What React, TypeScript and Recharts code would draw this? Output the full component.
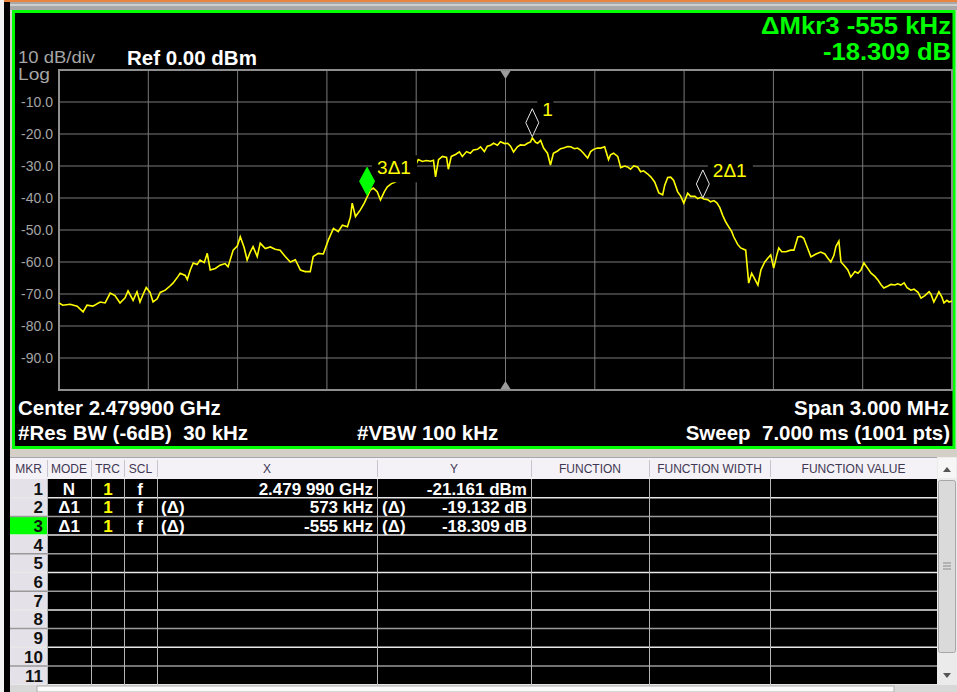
import React from 'react';
import { LineChart, Line, XAxis, YAxis, CartesianGrid, ReferenceArea, ReferenceDot } from 'recharts';

// sweep setup
const centerGHz = 2.4799;
const spanMHz = 3;
const resBwKHz = 30;
const vbwKHz = 100;
const sweepMs = 7;
const sweepPts = 1001;
const halfSpanKHz = (spanMHz * 1000) / 2;
const freqGridKHz = [-1200, -900, -600, -300, 0, 300, 600, 900, 1200];
const levelTicks = [-90, -80, -70, -60, -50, -40, -30, -20, -10];

// trace 1: [offset from center in kHz, level in dBm]
const trace: [number, number][] = [
  [-1500, -72.8], [-1487, -73.5], [-1463, -73.2], [-1439, -73.8], [-1419, -75.6], [-1406, -73.5],
  [-1386, -73.8], [-1362, -72.5], [-1345, -72.8], [-1328, -69.7], [-1312, -70.5], [-1295, -72.8],
  [-1278, -71.2], [-1268, -69.0], [-1251, -72.0], [-1238, -69.3], [-1228, -72.5], [-1217, -70.0],
  [-1207, -68.0], [-1194, -69.5], [-1184, -72.5], [-1170, -71.5], [-1160, -69.5], [-1143, -68.8],
  [-1127, -67.5], [-1117, -66.6], [-1100, -64.5], [-1093, -63.5], [-1076, -64.2], [-1069, -65.5],
  [-1059, -62.5], [-1049, -60.3], [-1036, -60.8], [-1026, -59.4], [-1012, -60.2], [-1002, -57.3],
  [-992, -62.5], [-975, -62.0], [-959, -61.0], [-942, -60.5], [-932, -61.5], [-925, -59.4],
  [-915, -56.3], [-901, -55.0], [-891, -52.1], [-878, -55.5], [-868, -59.4], [-858, -57.0],
  [-848, -55.2], [-834, -58.3], [-824, -54.1], [-807, -55.8], [-790, -55.3], [-774, -56.0],
  [-757, -56.3], [-740, -58.3], [-723, -60.0], [-706, -59.3], [-689, -62.5], [-673, -63.0],
  [-656, -63.0], [-646, -58.3], [-629, -57.3], [-612, -57.5], [-595, -53.1], [-578, -49.5],
  [-562, -50.5], [-548, -48.5], [-531, -49.0], [-521, -46.0], [-515, -41.6], [-504, -45.8],
  [-488, -43.8], [-474, -41.5], [-464, -39.5], [-454, -37.5], [-444, -36.9], [-431, -38.0],
  [-420, -40.6], [-407, -38.0], [-397, -36.5], [-383, -35.5], [-370, -35.0], [-353, -33.5],
  [-336, -34.5], [-319, -32.0], [-306, -30.5], [-293, -28.0], [-279, -28.6], [-266, -28.3],
  [-252, -28.5], [-242, -28.2], [-235, -33.4], [-225, -28.0], [-212, -27.0], [-198, -27.3],
  [-192, -31.0], [-182, -27.0], [-168, -26.4], [-155, -25.6], [-145, -27.0], [-131, -25.5],
  [-118, -26.0], [-108, -25.0], [-94, -24.8], [-84, -24.0], [-71, -25.5], [-61, -23.8],
  [-50, -23.5], [-40, -22.9], [-27, -23.5], [-17, -22.4], [-3, -23.0], [7, -22.9],
  [17, -23.8], [27, -25.6], [40, -24.0], [50, -23.4], [64, -23.5], [74, -22.9],
  [84, -22.5], [90, -21.2], [101, -22.6], [108, -22.9], [118, -22.0], [128, -24.4],
  [141, -26.0], [151, -29.7], [161, -26.0], [175, -25.3], [185, -24.6], [195, -24.4],
  [209, -23.9], [219, -24.0], [232, -24.6], [242, -24.4], [252, -25.0], [262, -26.0],
  [276, -27.5], [286, -25.5], [296, -24.8], [309, -24.4], [320, -24.4], [333, -24.0],
  [346, -28.0], [353, -26.5], [363, -26.0], [377, -27.0], [387, -30.5], [400, -30.0],
  [410, -30.3], [420, -31.0], [431, -30.0], [444, -30.3], [454, -31.8], [464, -31.5],
  [478, -32.5], [488, -33.4], [501, -35.0], [515, -38.4], [528, -39.0], [535, -36.0],
  [545, -33.6], [555, -33.5], [565, -34.5], [578, -38.0], [589, -39.5], [599, -41.6],
  [612, -38.5], [622, -39.5], [636, -39.5], [646, -40.2], [656, -39.8], [666, -40.3],
  [679, -40.5], [689, -41.2], [700, -40.8], [710, -41.5], [720, -43.0], [730, -45.5],
  [740, -47.5], [750, -49.0], [760, -50.5], [767, -52.2], [780, -54.5], [790, -55.6],
  [807, -56.3], [817, -66.6], [827, -63.5], [834, -64.7], [848, -67.2], [858, -62.5],
  [871, -60.0], [881, -58.8], [891, -57.8], [901, -61.9], [911, -58.0], [918, -55.6],
  [928, -56.8], [942, -56.8], [958, -56.3], [969, -56.3], [982, -52.2], [992, -52.0],
  [1002, -52.6], [1012, -55.0], [1026, -58.4], [1043, -57.5], [1059, -56.9], [1073, -57.5],
  [1083, -58.8], [1093, -60.0], [1103, -58.0], [1110, -55.2], [1120, -53.5], [1127, -60.0],
  [1137, -61.0], [1150, -62.5], [1160, -64.7], [1174, -63.0], [1184, -63.5], [1194, -62.5],
  [1204, -60.3], [1217, -62.0], [1228, -63.5], [1241, -64.5], [1251, -65.6], [1261, -67.0],
  [1271, -68.1], [1285, -67.5], [1295, -67.0], [1308, -67.2], [1318, -66.8], [1328, -67.2],
  [1339, -66.5], [1349, -68.0], [1362, -68.8], [1372, -68.5], [1386, -69.5], [1396, -71.3],
  [1409, -70.5], [1423, -69.3], [1429, -70.0], [1439, -72.5], [1450, -70.5], [1456, -69.3],
  [1466, -71.0], [1473, -72.8], [1483, -72.0], [1490, -72.5], [1500, -72.2],
];

// marker table
const refMkrGHz = 2.47999;
const refMkrDbm = -21.161;
const deltaMkrKHz = [573, -555];
const deltaMkrDb = [-19.132, -18.309];
const activeMkr = 3;
const tableRowCount = 11;

const FONT = '"Liberation Sans", Arial, Helvetica, sans-serif';
const W = 957;
const H = 692;

const data = trace.map(([f, l]) => ({ f, l }));

const refOffsetKHz = Math.round((refMkrGHz - centerGHz) * 1e6);
const markers = [
  { id: 1, name: '1', f: refOffsetKHz, l: refMkrDbm },
  ...deltaMkrKHz.map((d, i) => ({
    id: i + 2,
    name: `${i + 2}\u03941`,
    f: refOffsetKHz + d,
    l: +(refMkrDbm + deltaMkrDb[i]).toFixed(3),
  })),
];

const fmtGHz = (v: number) => {
  const s = v.toFixed(6);
  return `${s.slice(0, -3)} ${s.slice(-3)} GHz`;
};

const tableRows = [
  { mode: 'N', rel: '', x: fmtGHz(refMkrGHz), y: `${refMkrDbm.toFixed(3)} dBm` },
  ...deltaMkrKHz.map((d, i) => ({
    mode: '\u03941',
    rel: '(\u0394)',
    x: `${d} kHz`,
    y: `${deltaMkrDb[i].toFixed(3)} dB`,
  })),
];

const colEdges = [10, 47, 91, 124, 157, 377, 531, 649, 770, 937];
const headers = ['MKR', 'MODE', 'TRC', 'SCL', 'X', 'Y', 'FUNCTION', 'FUNCTION WIDTH', 'FUNCTION VALUE'];
const ROW_TOP = 479;
const ROW_H = 18.7;

function MarkerShape(props: any) {
  const { cx, cy, name, active } = props;
  if (cx == null || cy == null) return null;
  const w = active ? 7.5 : 6.5;
  const bot = cy - 1;
  const mid = cy - 15;
  const top = cy - 29;
  const boxW = name.length > 1 ? 45 : 16;
  return (
    <g>
      <rect x={cx + 5} y={cy - 41} width={boxW} height={27} fill="#000" />
      <polygon
        points={`${cx},${bot} ${cx - w},${mid} ${cx},${top} ${cx + w},${mid}`}
        fill={active ? '#00ff00' : '#000'}
        stroke={active ? '#00ff00' : '#e6e6e6'}
        strokeWidth={1}
      />
      <text x={cx + 10} y={cy - 22} fill="#ffff00" fontSize={19} fontFamily={FONT}>
        {name}
      </text>
    </g>
  );
}

function CenterTick(props: any) {
  const { cx, cy, up } = props;
  if (cx == null || cy == null) return null;
  const pts = up
    ? `${cx - 5},${cy - 1} ${cx + 5},${cy - 1} ${cx},${cy - 9}`
    : `${cx - 5},${cy + 1} ${cx + 5},${cy + 1} ${cx},${cy + 9}`;
  return <polygon points={pts} fill="#9c9c9c" />;
}

function Frame() {
  const rows = Array.from({ length: tableRowCount }, (_, i) => i);
  return (
    <svg width={W} height={H} style={{ position: 'absolute', left: 0, top: 0 }} fontFamily={FONT}>
      <rect x={0} y={0} width={W} height={H} fill="#d4d0c8" />
      <rect x={0} y={0} width={W} height={2} fill="#e9853f" />
      <rect x={0} y={2} width={W} height={8} fill="#a8a8a8" />
      <rect x={0} y={4} width={W} height={2} fill="#cfcfcf" />
      <rect x={0} y={0} width={4} height={H} fill="#f2f2f2" />
      <rect x={4} y={2} width={6} height={H} fill="#000" />

      {/* analyzer screen */}
      <rect x={13.5} y={11.5} width={940.5} height={436} fill="#000" stroke="#00ff00" strokeWidth={3} />
      <text x={18} y={63} fill="#a6a6a6" fontSize={16} textLength={77} lengthAdjust="spacingAndGlyphs">
        10 dB/div
      </text>
      <text x={18} y={80} fill="#a6a6a6" fontSize={16} textLength={32} lengthAdjust="spacingAndGlyphs">
        Log
      </text>
      <text x={127} y={65} fill="#fff" fontSize={20.5} fontWeight="bold">Ref 0.00 dBm</text>
      <text x={761} y={34} fill="#00ff00" fontSize={24} fontWeight="bold" textLength={190} lengthAdjust="spacingAndGlyphs">
        {`\u0394Mkr${activeMkr} ${deltaMkrKHz[activeMkr - 2]} kHz`}
      </text>
      <text x={823} y={60} fill="#00ff00" fontSize={24} fontWeight="bold" textLength={128} lengthAdjust="spacingAndGlyphs">
        {`${deltaMkrDb[activeMkr - 2].toFixed(3)} dB`}
      </text>
      <text x={18} y={415} fill="#fff" fontSize={20.5} fontWeight="bold">
        {`Center ${centerGHz.toFixed(6)} GHz`}
      </text>
      <text x={18} y={440} fill="#fff" fontSize={20.5} fontWeight="bold" xmlSpace="preserve">
        {`#Res BW (-6dB)  ${resBwKHz} kHz`}
      </text>
      <text x={357} y={440} fill="#fff" fontSize={20.5} fontWeight="bold">
        {`#VBW ${vbwKHz} kHz`}
      </text>
      <text x={949} y={415} fill="#fff" fontSize={20.5} fontWeight="bold" textAnchor="end">
        {`Span ${spanMHz.toFixed(3)} MHz`}
      </text>
      <text x={950} y={440} fill="#fff" fontSize={20.5} fontWeight="bold" textAnchor="end" xmlSpace="preserve">
        {`Sweep  ${sweepMs.toFixed(3)} ms (${sweepPts} pts)`}
      </text>

      {/* marker table */}
      <rect x={10} y={457} width={927} height={22} fill="#f4f2f7" />
      <line x1={10} x2={937} y1={457.5} y2={457.5} stroke="#a9a6b0" />
      {colEdges.slice(1, -1).map((x) => (
        <line key={`h${x}`} x1={x + 0.5} x2={x + 0.5} y1={460} y2={477} stroke="#c9c5cf" />
      ))}
      {headers.map((h, i) => (
        <text
          key={h}
          x={(colEdges[i] + colEdges[i + 1]) / 2}
          y={473}
          fill="#3f3852"
          fontSize={12}
          textAnchor="middle"
        >
          {h}
        </text>
      ))}
      <rect x={10} y={ROW_TOP} width={927} height={ROW_H * tableRowCount} fill="#000" />
      <rect x={10} y={ROW_TOP} width={37} height={ROW_H * tableRowCount} fill="#e4e1e8" />
      <rect x={10} y={ROW_TOP + ROW_H * (activeMkr - 1)} width={37} height={ROW_H} fill="#00ff00" />
      {rows.map((i) => (
        <line
          key={`r${i}`}
          x1={10}
          x2={937}
          y1={ROW_TOP + ROW_H * (i + 1)}
          y2={ROW_TOP + ROW_H * (i + 1)}
          stroke={i % 2 ? '#9a9a9a' : '#e8e8e8'}
          strokeWidth={1.5}
        />
      ))}
      {colEdges.slice(1, -1).map((x) => (
        <line key={`c${x}`} x1={x + 0.5} x2={x + 0.5} y1={ROW_TOP} y2={ROW_TOP + ROW_H * tableRowCount} stroke="#b4b4b4" />
      ))}
      {rows.map((i) => (
        <text key={`n${i}`} x={43} y={ROW_TOP + ROW_H * i + 15.5} fill="#111" fontSize={17} fontWeight="bold" textAnchor="end">
          {i + 1}
        </text>
      ))}
      {tableRows.map((r, i) => {
        const y = ROW_TOP + ROW_H * i + 15.5;
        return (
          <g key={`d${i}`} fontSize={17} fontWeight="bold" fill="#fff">
            <text x={69} y={y} textAnchor="middle">{r.mode}</text>
            <text x={108} y={y} textAnchor="middle" fill="#ffff00">1</text>
            <text x={140} y={y} textAnchor="middle">f</text>
            <text x={161} y={y}>{r.rel}</text>
            <text x={373} y={y} textAnchor="end">{r.x}</text>
            <text x={382} y={y}>{r.rel}</text>
            <text x={527} y={y} textAnchor="end">{r.y}</text>
          </g>
        );
      })}

      {/* scrollbar */}
      <rect x={937} y={457} width={20} height={228} fill="#ebebeb" />
      <rect x={938} y={458} width={18} height={20} fill="#f6f6f6" />
      <polygon points="943,472 951,472 947,467" fill="#555" />
      <rect x={938.5} y={480.5} width={17} height={172} rx={2} fill="#dadada" stroke="#a7a7a7" />
      {[563, 566, 569].map((y) => (
        <line key={y} x1={943} x2={951} y1={y} y2={y} stroke="#8a8a8a" />
      ))}
      <polygon points="943,673 951,673 947,678" fill="#555" />
      <rect x={10} y={685} width={947} height={7} fill="#d8d8d8" />
      <rect x={37} y={686} width={857} height={6} fill="#fbfbfb" stroke="#b0b0b0" />
    </svg>
  );
}

export default function App() {
  return (
    <div style={{ position: 'absolute', left: 0, top: 0, width: W, height: H, overflow: 'hidden' }}>
      <Frame />
      <div style={{ position: 'absolute', left: 0, top: 0 }}>
        <LineChart width={W} height={400} data={data} margin={{ top: 70, right: 5, bottom: 10, left: 14 }}>
          <XAxis type="number" dataKey="f" domain={[-halfSpanKHz, halfSpanKHz]} ticks={freqGridKHz} hide />
          <YAxis
            type="number"
            domain={[-100, 0]}
            ticks={levelTicks}
            interval={0}
            width={45}
            axisLine={false}
            tickLine={false}
            tickSize={6}
            tickMargin={0}
            tick={{ fill: '#a4a4a4', fontSize: 14, fontFamily: FONT }}
            tickFormatter={(v: number) => v.toFixed(1)}
          />
          <CartesianGrid stroke="#7a7a7a" strokeWidth={1} />
          <ReferenceArea
            x1={-halfSpanKHz}
            x2={halfSpanKHz}
            y1={-100}
            y2={0}
            fill="none"
            fillOpacity={0}
            stroke="#8e8e8e"
            strokeWidth={2}
          />
          <Line
            type="linear"
            dataKey="l"
            stroke="#ffff00"
            strokeWidth={1.6}
            dot={false}
            isAnimationActive={false}
          />
          <ReferenceDot x={0} y={0} r={1} shape={(p: any) => <CenterTick {...p} />} />
          <ReferenceDot x={0} y={-100} r={1} shape={(p: any) => <CenterTick {...p} up />} />
          {markers.map((m) => (
            <ReferenceDot
              key={m.id}
              x={m.f}
              y={m.l}
              r={1}
              shape={(p: any) => <MarkerShape {...p} name={m.name} active={m.id === activeMkr} />}
            />
          ))}
        </LineChart>
      </div>
    </div>
  );
}
